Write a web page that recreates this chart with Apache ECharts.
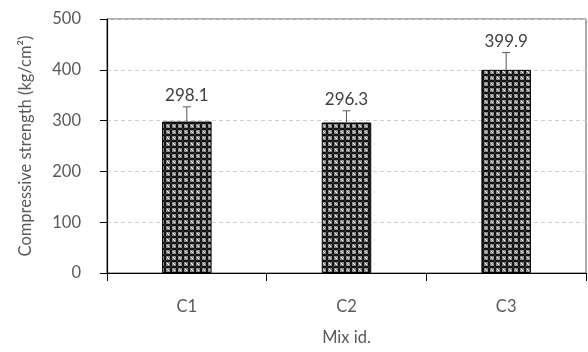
<!DOCTYPE html>
<html><head><meta charset="utf-8">
<script src="https://cdn.jsdelivr.net/npm/echarts@6/dist/echarts.min.js"></script>
<style>html,body{margin:0;padding:0;background:#fff}#c{width:588px;height:352px}</style>
</head><body><div id="c"></div>
<script>
const categories = ['C1', 'C2', 'C3'];
const strength = [298.1, 296.3, 399.9];
const errorVals = [29, 23, 34];
const yTicks = [0, 100, 200, 300, 400, 500];

// hatch-like pattern tile
const tile = document.createElement('canvas');
tile.width = 6; tile.height = 6;
const g = tile.getContext('2d');
g.fillStyle = '#8a8a8a'; g.fillRect(0, 0, 6, 6);
g.fillStyle = '#111';
g.fillRect(0, 2, 6, 2); g.fillRect(2, 0, 2, 6);
g.fillStyle = '#f0f0f0';
g.fillRect(0, 0, 1, 1); g.fillRect(5, 5, 1, 1);
g.fillStyle = '#2a2a2a';
g.fillRect(2, 2, 2, 2);

const font = 'Lato, "Open Sans", "Noto Sans", sans-serif';
const txt = '#595959';

const chart = echarts.init(document.getElementById('c'), null, {renderer: 'canvas'});
chart.setOption({
  animation: false,
  grid: {left: 107, right: 2, top: 19, bottom: 79, show: true, borderColor: '#595959', borderWidth: 1},
  xAxis: {
    type: 'category', data: categories,
    name: 'Mix id.', nameLocation: 'middle', nameGap: 56,
    nameTextStyle: {color: txt, fontSize: 16.5, fontFamily: font},
    axisLine: {lineStyle: {color: '#000', width: 1.2}},
    axisTick: {show: true, length: 8, lineStyle: {color: '#000'}},
    axisLabel: {color: txt, fontSize: 16.5, fontFamily: font, margin: 25}
  },
  yAxis: {
    type: 'value', min: 0, max: 500, interval: 100,
    name: 'Compressive strength (kg/cm²)', nameLocation: 'middle', nameGap: 73,
    nameTextStyle: {color: txt, fontSize: 16.5, fontFamily: font},
    axisLine: {show: true, lineStyle: {color: '#000', width: 1.2}},
    axisTick: {show: true, length: 7, lineStyle: {color: '#000'}},
    axisLabel: {color: txt, fontSize: 16.5, fontFamily: font, margin: 26,
      formatter: v => yTicks.includes(v) ? String(v) : ''},
    splitLine: {lineStyle: {color: '#d0d0d0', type: [4, 3], width: 1}}
  },
  series: [
    {
      type: 'bar', data: strength, barWidth: '31%',
      itemStyle: {color: {image: tile, repeat: 'repeat'}, borderColor: '#000', borderWidth: 1}
    },
    {
      type: 'custom', z: 10,
      data: strength.map((v, i) => [i, v, errorVals[i]]),
      renderItem: function (params, api) {
        const x = api.coord([api.value(0), api.value(1)]);
        const top = api.coord([api.value(0), api.value(1) + api.value(2)]);
        const ls = {stroke: '#595959', lineWidth: 1};
        return {
          type: 'group',
          children: [
            {type: 'line', shape: {x1: x[0], y1: x[1], x2: top[0], y2: top[1]}, style: ls},
            {type: 'line', shape: {x1: top[0] - 4, y1: top[1], x2: top[0] + 4, y2: top[1]}, style: ls},
            {type: 'text', x: top[0], y: top[1] - 3,
              style: {text: api.value(1).toFixed(1), fill: '#404040', fontSize: 17, fontFamily: font,
                textAlign: 'center', textVerticalAlign: 'bottom'}}
          ]
        };
      }
    }
  ]
});
</script></body></html>
